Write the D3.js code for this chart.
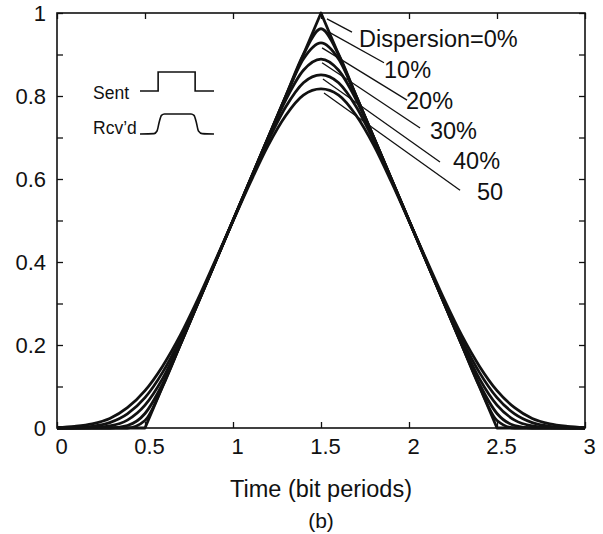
<!DOCTYPE html>
<html>
<head>
<meta charset="utf-8">
<script src="https://cdn.jsdelivr.net/npm/d3@7"></script>
<style>
  body { margin: 0; background: #fff; }
  svg { font-family: "Liberation Sans", Arial, Helvetica, sans-serif; }
  .axis path { display: none; }
  .axis line { stroke: #111; stroke-width: 1.3; }
  .axis text { font-size: 22px; fill: #111; }
</style>
</head>
<body>
<script>
// time in bit periods
var timeBits = [0,0.1,0.2,0.3,0.4,0.5,0.6,0.7,0.8,0.9,1,1.1,1.2,1.3,1.4,1.5,1.6,1.7,1.8,1.9,2,2.1,2.2,2.3,2.4,2.5,2.6,2.7,2.8,2.9,3];

// received pulse for each dispersion value
var disp0  = [0,0,0,0,0,0,0.1,0.2,0.3,0.4,0.5,0.6,0.7,0.8,0.9,1,0.9,0.8,0.7,0.6,0.5,0.4,0.3,0.2,0.1,0,0,0,0,0,0];
var disp10 = [0,0,0,0,0,0.018,0.1,0.2,0.3,0.4,0.5,0.6,0.7,0.8,0.9,0.962,0.9,0.8,0.7,0.6,0.5,0.4,0.3,0.2,0.1,0.018,0,0,0,0,0];
var disp20 = [0,0,0,0,0.006,0.035,0.106,0.2,0.3,0.4,0.5,0.6,0.7,0.799,0.889,0.928,0.889,0.799,0.7,0.6,0.5,0.4,0.3,0.2,0.106,0.035,0.006,0,0,0,0];
var disp30 = [0,0,0.001,0.005,0.019,0.055,0.119,0.205,0.301,0.4,0.5,0.6,0.699,0.791,0.862,0.889,0.862,0.791,0.699,0.6,0.5,0.4,0.301,0.205,0.119,0.055,0.019,0.005,0.001,0,0];
var disp40 = [0,0.001,0.004,0.013,0.034,0.073,0.134,0.213,0.304,0.401,0.5,0.598,0.692,0.774,0.832,0.851,0.832,0.774,0.692,0.598,0.5,0.401,0.304,0.213,0.134,0.073,0.034,0.013,0.004,0.001,0];
var disp50 = [0.001,0.004,0.010,0.023,0.049,0.090,0.149,0.223,0.310,0.404,0.499,0.593,0.681,0.753,0.802,0.817,0.802,0.753,0.681,0.593,0.499,0.404,0.310,0.223,0.149,0.090,0.049,0.023,0.010,0.004,0.001];

// curve labels and leader lines, in data units
var curveLabels = ["Dispersion=0%", "10%", "20%", "30%", "40%", "50"];
var leaderFrom  = [[1.534,0.986],[1.545,0.954],[1.506,0.916],[1.506,0.880],[1.511,0.841],[1.517,0.807]];
var leaderTo    = [[1.676,0.954],[1.858,0.880],[1.989,0.790],[2.063,0.723],[2.176,0.641],[2.290,0.573]];
var labelAt     = [[1.716,0.918],[1.858,0.843],[1.983,0.769],[2.119,0.696],[2.250,0.624],[2.386,0.549]];

// ticks
var xTicks = [0,0.5,1,1.5,2,2.5,3];
var yTicks = [0,0.1,0.2,0.3,0.4,0.5,0.6,0.7,0.8,0.9,1];

// inset sketch: sent and received bit
var sentT = [0,0.245,0.245,0.745,0.745,1];
var sentV = [0,0,1,1,0,0];
var rcvT  = [0,0.19,0.23,0.26,0.29,0.33,0.69,0.73,0.76,0.79,0.84,1];
var rcvV  = [0,0.02,0.15,0.6,0.93,1,1,0.93,0.6,0.15,0.02,0];

var width = 603, height = 534;
var x = d3.scaleLinear().domain([0, 3]).range([57, 585]);
var y = d3.scaleLinear().domain([0, 1]).range([428, 13]);

var svg = d3.select("body").append("svg")
    .attr("width", width)
    .attr("height", height);

// axes, ticks pointing inward
var fmtY = function(d) { return Math.round(d * 10) % 2 === 0 ? d3.format("~g")(+d.toFixed(1)) : ""; };

svg.append("g").attr("class", "axis")
    .attr("transform", "translate(" + x(0) + ",0)")
    .call(d3.axisLeft(y).tickValues(yTicks).tickSize(-6).tickPadding(11).tickFormat(fmtY))
    .selectAll("text").attr("dy", "0.36em");

svg.append("g").attr("class", "axis")
    .attr("transform", "translate(" + x(3) + ",0)")
    .call(d3.axisRight(y).tickValues(yTicks).tickSize(-6).tickFormat(""));

svg.append("g").attr("class", "axis")
    .attr("transform", "translate(0," + y(0) + ")")
    .call(d3.axisBottom(x).tickValues(xTicks).tickSize(-6).tickPadding(10).tickFormat(d3.format("~g")))
    .selectAll("text").attr("dx", 4);

svg.append("g").attr("class", "axis")
    .attr("transform", "translate(0," + y(1) + ")")
    .call(d3.axisTop(x).tickValues(xTicks).tickSize(-6).tickFormat(""));

// plot box
svg.append("rect")
    .attr("x", x(0)).attr("y", y(1))
    .attr("width", x(3) - x(0)).attr("height", y(0) - y(1))
    .attr("fill", "none").attr("stroke", "#111").attr("stroke-width", 1.6);

// curves
var series = [disp0, disp10, disp20, disp30, disp40, disp50];
series.forEach(function(vals, i) {
  var line = d3.line()
      .x(function(d, j) { return x(timeBits[j]); })
      .y(function(d) { return y(d); })
      .curve(i === 0 ? d3.curveLinear : d3.curveMonotoneX);
  svg.append("path")
      .datum(vals)
      .attr("d", line)
      .attr("fill", "none")
      .attr("stroke", "#111")
      .attr("stroke-width", 2.8)
      .attr("stroke-linejoin", "round");
});

// leader lines + labels
curveLabels.forEach(function(t, i) {
  svg.append("line")
      .attr("x1", x(leaderFrom[i][0])).attr("y1", y(leaderFrom[i][1]))
      .attr("x2", x(leaderTo[i][0])).attr("y2", y(leaderTo[i][1]))
      .attr("stroke", "#111").attr("stroke-width", 1.3);
  svg.append("text")
      .attr("x", x(labelAt[i][0])).attr("y", y(labelAt[i][1]))
      .attr("font-size", 23.5)
      .attr("fill", "#111")
      .text(t);
});

// inset
var ix = d3.scaleLinear().domain([0, 1]).range([140, 214]);
var sy = d3.scaleLinear().domain([0, 1]).range([91, 72]);
var ry = d3.scaleLinear().domain([0, 1]).range([134, 114]);

svg.append("path")
    .datum(sentV)
    .attr("d", d3.line().x(function(d, j) { return ix(sentT[j]); }).y(function(d) { return sy(d); }))
    .attr("fill", "none").attr("stroke", "#111").attr("stroke-width", 1.6);

svg.append("path")
    .datum(rcvV)
    .attr("d", d3.line().x(function(d, j) { return ix(rcvT[j]); }).y(function(d) { return ry(d); }).curve(d3.curveMonotoneX))
    .attr("fill", "none").attr("stroke", "#111").attr("stroke-width", 1.6);

svg.append("text").attr("x", 93).attr("y", 99).attr("font-size", 17.5).attr("fill", "#111").text("Sent");
svg.append("text").attr("x", 93).attr("y", 134).attr("font-size", 17.5).attr("fill", "#111").text("Rcv\u2019d");

// axis title and caption
svg.append("text")
    .attr("x", x(1.5)).attr("y", 497)
    .attr("text-anchor", "middle")
    .attr("font-size", 23.5)
    .attr("fill", "#111")
    .text("Time (bit periods)");

svg.append("text")
    .attr("x", x(1.5)).attr("y", 528)
    .attr("text-anchor", "middle")
    .attr("font-size", 21)
    .attr("fill", "#111")
    .text("(b)");
</script>
</body>
</html>
